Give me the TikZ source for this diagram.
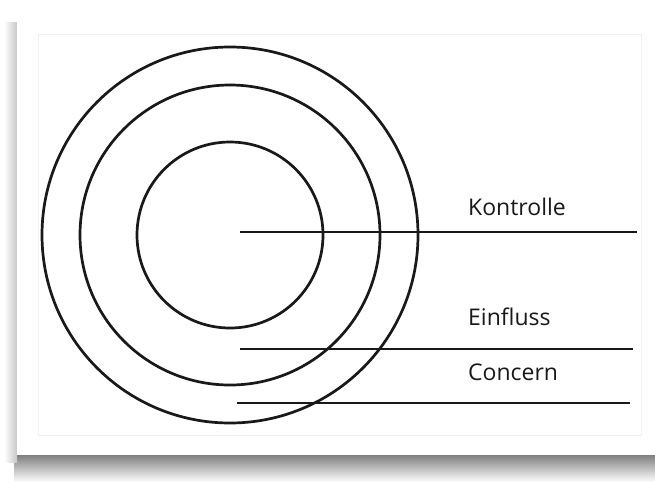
\documentclass[tikz,border=0pt]{standalone}
\usepackage{fontspec}
\setmainfont{Open Sans}
\usetikzlibrary{positioning, calc}

\begin{document}
\begin{tikzpicture}[
    x=1pt, y=-1pt,
    ring/.style={draw=black!90, line width=2.7pt},
    bar/.style={draw=black!90, line width=2.7pt},
    lbl/.style={font=\fontsize{23}{26}\selectfont, text=black!90, anchor=base west, inner sep=0pt}
]
\useasboundingbox (0,0) rectangle (655,483);
% card with soft shadow
\shade[top color=black!50, bottom color=white] (14,455) rectangle (655,482);
\shade[left color=white, right color=black!22] (4,22) rectangle (17,462);
\fill[white] (17,13) rectangle (655,455);
\draw[black!6, line width=0.8pt] (38,34) rectangle (641,435);
% three rings round one centre
\coordinate (ctr) at (230,235);
\draw[ring] (ctr) circle[radius=188];
\draw[ring] (ctr) circle[radius=150];
\draw[ring] (ctr) circle[radius=93];
% labels and their bars
\node[lbl] (kontrolle) at (468,215) {Kontrolle};
\node[lbl] (einfluss)  at (468,325) {Einfluss};
\node[lbl] (concern)   at (468,380) {Concern};
\coordinate (k0) at (240,232); \coordinate (k1) at (637,232);
\coordinate (e0) at (240,349); \coordinate (e1) at (633,349);
\coordinate (c0) at (237,403); \coordinate (c1) at (630,403);
\draw[bar] (k0)--(k1); \draw[bar] (e0)--(e1); \draw[bar] (c0)--(c1);
\end{tikzpicture}
\end{document}
